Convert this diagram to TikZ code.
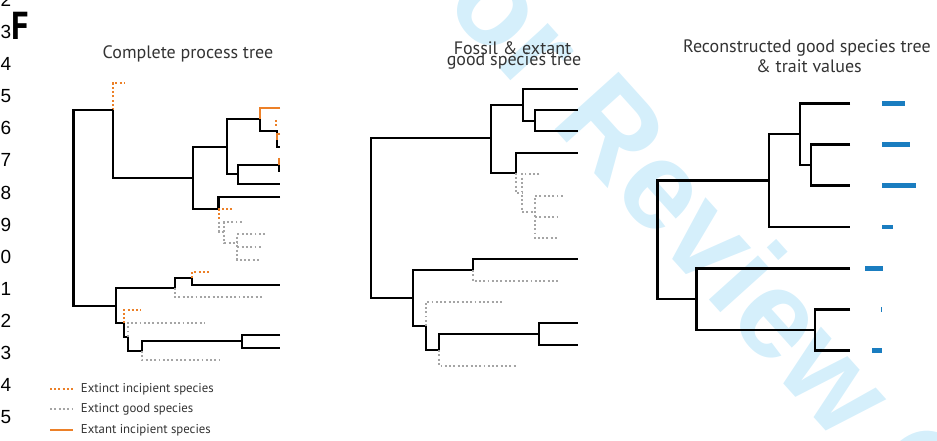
\documentclass[tikz,border=0pt]{standalone}
\usepackage{fontspec}
\setmainfont{PT Sans}
\newfontfamily\wmfont{Liberation Sans}
\newfontfamily\lnfont{Liberation Sans}
\definecolor{orng}{RGB}{236,128,40}
\definecolor{gdotc}{RGB}{165,165,165}
\definecolor{barblue}{RGB}{26,125,192}
\definecolor{txtc}{RGB}{51,51,51}
\definecolor{wmc}{RGB}{213,239,251}
\begin{document}
\begin{tikzpicture}[x=1pt,y=-1pt,
  bk/.style={black, line width=2.3pt},
  bkt/.style={black, line width=2.6pt},
  odot/.style={draw=orng, line width=2pt, dash pattern=on 2pt off 2.2pt},
  gdot/.style={draw=gdotc, line width=1.9pt, dash pattern=on 1.9pt off 2.4pt},
  osol/.style={draw=orng, line width=2.2pt},
  bar/.style={fill=barblue, draw=none},
  ttl/.style={text=txtc, font=\fontsize{18}{18}\selectfont, inner sep=0pt},
  leg/.style={text=txtc, font=\fontsize{12.8}{13}\selectfont, inner sep=0pt, anchor=west},
  lnum/.style={font=\lnfont\fontsize{19}{19}\selectfont, inner sep=0pt, anchor=east},
]
\path[use as bounding box] (0,0) rectangle (937,441);
% watermark
\node[text=wmc, font=\wmfont\bfseries\fontsize{125}{125}\selectfont, anchor=base west, rotate=-48, inner sep=0pt] (wm) at (391.6,-52.3) {For Review Only};
% line numbers
\foreach \d [count=\k from 0] in {2,3,4,5,6,7,8,9,0,1,2,3,4,5}
  \node[lnum] (ln\k) at (11.5, {32.08*\k}) {\d};
\node[font=\bfseries\fontsize{39}{39}\selectfont, inner sep=0pt, xscale=0.88] (F) at (20.5,26) {F};

% ---------- Panel 1 ----------
\node[ttl] (t1) at (188,54) {Complete process tree};
\draw[odot] (113,110) -- (113,83) -- (125,83);
\draw[bk] (113,110) -- (73.5,110) -- (73.5,306) -- (115.7,306);
\draw[bk] (113,110) -- (113,178) -- (193,178);
\draw[bk] (227,147) -- (193,147) -- (193,209) -- (218.5,209);
\draw[bk] (280,197) -- (218.5,197) -- (218.5,209);
\draw[bk] (260,119) -- (227,119) -- (227,174) -- (238,174);
\draw[bk] (279,165) -- (238,165) -- (238,184) -- (280,184);
\draw[bk] (279,165) -- (279,172);
\draw[osol] (279,158) -- (279,165);
\draw[bk] (260,119) -- (260,130.7) -- (276.7,130.7) -- (276.7,146.7) -- (280,146.7);
\draw[osol] (280,108.3) -- (260,108.3) -- (260,119);
\draw[osol] (280,134) -- (276.7,134) -- (276.7,140);
\draw[odot] (275.8,120) -- (275.8,128);
\draw[odot] (232,209.3) -- (219,209.3) -- (219,221);
\draw[gdot] (219,221.7) -- (219,232) -- (224.3,232);
\draw[gdot] (241.7,222) -- (224.3,222) -- (224.3,243.3) -- (237.3,243.3);
\draw[gdot] (265,234.3) -- (237.3,234.3) -- (237.3,260) -- (261,260);
\draw[gdot] (237.3,247) -- (261,247);
% lower clade
\draw[bk] (115.7,306) -- (115.7,323.3) -- (124,323.3) -- (124,336.7) -- (127.7,336.7) -- (127.7,351) -- (142,351) -- (142,341.3) -- (242.3,341.3);
\draw[bk] (115.7,306) -- (115.7,287.7) -- (175,287.7) -- (175,278.3) -- (192.3,278.3) -- (192.3,285) -- (280,285);
\draw[bk] (280,335) -- (242.3,335) -- (242.3,347.7) -- (280,347.7);
\draw[odot] (192.3,278.3) -- (192.3,272) -- (208.5,272);
\draw[gdot] (175,287.7) -- (175,297.3) -- (263.3,297.3);
\draw[odot] (124,323.3) -- (124,310) -- (140.7,310);
\draw[gdot] (127.7,336.7) -- (127.7,322.7) -- (205,322.7);
\draw[gdot] (142,351) -- (142,360.3) -- (219.5,360.3);
% legend
\draw[odot] (50,389) -- (72.7,389);
\node[leg] (l1) at (80.7,389) {Extinct incipient species};
\draw[gdot] (50,409.3) -- (72.7,409.3);
\node[leg] (l2) at (80.7,409.3) {Extinct good species};
\draw[osol] (50,430) -- (72.7,430);
\node[leg] (l3) at (80.7,430) {Extant incipient species};

% ---------- Panel 2 ----------
\node[ttl] (t2a) at (512.5,48.3) {Fossil \& extant};
\node[ttl] (t2b) at (514,60.7) {good species tree};
\draw[bk] (490.7,138.3) -- (371,138.3) -- (371,298.3) -- (413.3,298.3);
\draw[bk] (523.3,105) -- (490.7,105) -- (490.7,172.7) -- (515.7,172.7) -- (515.7,153.3) -- (577.7,153.3);
\draw[bk] (577.7,89) -- (523.3,89) -- (523.3,120.7) -- (535,120.7);
\draw[bk] (577.7,110) -- (535,110) -- (535,131) -- (577.7,131);
\draw[gdot] (515.7,172.7) -- (515.7,192.7) -- (521.7,192.7);
\draw[gdot] (539.3,173.7) -- (521.7,173.7) -- (521.7,211.7) -- (535,211.7);
\draw[gdot] (562.7,195.7) -- (535,195.7) -- (535,238.3) -- (558.3,238.3);
\draw[gdot] (535,216.7) -- (558.3,216.7);
\draw[bk] (472.7,270) -- (413.3,270) -- (413.3,326) -- (425.7,326) -- (425.7,350) -- (439,350) -- (439,334.3) -- (539.3,334.3);
\draw[bk] (472.7,270) -- (472.7,259.3) -- (577.7,259.3);
\draw[bk] (577.7,323.3) -- (539.3,323.3) -- (539.3,345) -- (577.7,345);
\draw[gdot] (472.7,270) -- (472.7,281) -- (560,281);
\draw[gdot] (425.7,326) -- (425.7,301.7) -- (502.7,301.7);
\draw[gdot] (439,350) -- (439,365.7) -- (517.3,365.7);

% ---------- Panel 3 ----------
\node[ttl] (t3a) at (807,48.3) {Reconstructed good species tree};
\node[ttl] (t3b) at (809,66.7) {\& trait values};
\draw[bkt] (769,180.3) -- (657.3,180.3) -- (657.3,299) -- (696.7,299);
\draw[bkt] (800,134) -- (769,134) -- (769,227) -- (850,227);
\draw[bkt] (850,103.3) -- (800,103.3) -- (800,165) -- (811,165);
\draw[bkt] (850,144.3) -- (811,144.3) -- (811,185.7) -- (850,185.7);
\draw[bkt] (850,268.3) -- (696.7,268.3) -- (696.7,330) -- (815,330);
\draw[bkt] (850,309.3) -- (815,309.3) -- (815,350.7) -- (850,350.7);
\fill[bar] (882,101) rectangle (905,105.6);
\fill[bar] (882,142) rectangle (910,146.6);
\fill[bar] (882,183.4) rectangle (916,188);
\fill[bar] (882,224.7) rectangle (893.3,229.3);
\fill[bar] (865,266) rectangle (883.3,270.6);
\fill[bar] (880.6,306.8) rectangle (881.6,311.6);
\fill[bar] (872,348.4) rectangle (882,353);
\end{tikzpicture}
\end{document}
